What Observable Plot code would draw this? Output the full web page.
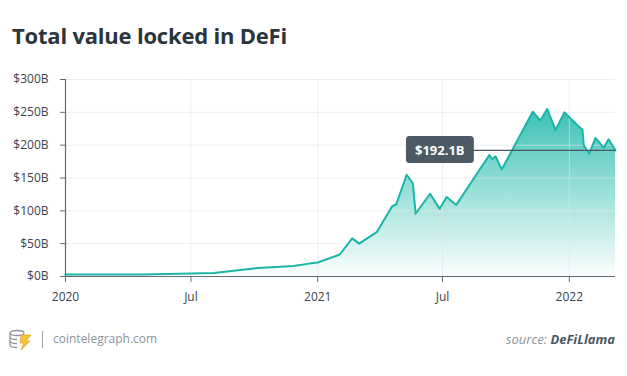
<!DOCTYPE html>
<html><head><meta charset="utf-8">
<script src="https://cdn.jsdelivr.net/npm/d3@7"></script>
<script src="https://cdn.jsdelivr.net/npm/@observablehq/plot@0.6"></script>
<style>
body{margin:0;background:#fff;font-family:"Open Sans",sans-serif;width:627px;height:376px;position:relative;overflow:hidden}
#title{position:absolute;left:12px;top:20px;font-size:22px;font-weight:700;color:#2b353d;white-space:nowrap;letter-spacing:-0.2px}
#chart{position:absolute;left:0;top:60px}
#logo{position:absolute;left:9px;top:329px}
#sep{position:absolute;left:42px;top:331px;width:1px;height:17px;background:#9aa3a9}
#site{position:absolute;left:53px;top:330px;font-size:12px;color:#8b949a;line-height:18px}
#source{position:absolute;right:12px;top:330px;font-size:13px;font-style:italic;color:#8b949a;line-height:18px}
#source b{color:#4b5963;font-weight:700}
</style></head><body>
<div id="title">Total value locked in DeFi</div>
<div id="chart"></div>
<svg id="logo" width="24" height="22" viewBox="0 0 24 22">
  <ellipse cx="8" cy="4" rx="7" ry="2.5" fill="none" stroke="#8d969c" stroke-width="1.3"/>
  <path d="M1 4v12c0 1.4 3.1 2.5 7 2.5M1 8c0 1.4 3.1 2.5 7 2.5M1 12c0 1.4 3.1 2.5 7 2.5" fill="none" stroke="#8d969c" stroke-width="1.3"/>
  <path d="M12 6h10l-5 6h4l-9 9 3-7h-4z" fill="#f5c242" stroke="#e3a923" stroke-width="0.8"/>
</svg>
<div id="sep"></div>
<div id="site">cointelegraph.com</div>
<div id="source">source: <b>DeFiLlama</b></div>
<script>
const dates = ["2020-01-01","2020-04-20","2020-07-01","2020-08-03","2020-10-06","2020-11-27","2020-12-22","2021-01-01",
  "2021-02-02","2021-02-20","2021-03-02","2021-03-28","2021-04-19","2021-04-25","2021-05-10","2021-05-19","2021-05-23",
  "2021-06-13","2021-06-27","2021-07-07","2021-07-21","2021-09-07","2021-09-11","2021-09-16","2021-09-25",
  "2021-11-09","2021-11-20","2021-11-30","2021-12-12","2021-12-25","2022-01-13","2022-01-20","2022-01-22",
  "2022-01-30","2022-02-08","2022-02-20","2022-02-27","2022-03-09"];
const tvlBillions = [3,3,4.5,5.5,13,16,20,21.3,
  33.5,58,50,68,107,110,155,142,95.5,
  126,103,121,109,185,178.6,183,163,
  251,237.5,255,223,250,230,224,199.5,
  187,211,196,209,192.1];
const yTicks = [0,50,100,150,200,250,300];
const xTickDates = ["2020-01-01","2020-07-01","2021-01-01","2021-07-01","2022-01-01"];
const xTickLabels = ["2020","Jul","2021","Jul","2022"];
const annotationValue = 192.1;
const annotationLabel = "$192.1B";
const annotationDate = "2021-06-27";

const parse = d3.utcParse("%Y-%m-%d");
const data = dates.map((d,i)=>({date: parse(d), value: tvlBillions[i]}));
const xTicks = xTickDates.map(parse);
const labelMap = new Map(xTicks.map((d,i)=>[+d, xTickLabels[i]]));
const last = data[data.length-1];
const ann = [{date: parse(annotationDate), end: last.date, value: annotationValue, label: annotationLabel}];

const axisColor = "#5f6c75";
const gridColor = "#dfe4e7";
const textColor = "#3a444b";

const chart = Plot.plot({
  width: 627,
  height: 245,
  marginLeft: 65,
  marginRight: 12,
  marginTop: 19,
  marginBottom: 29,
  style: {fontFamily: "'Open Sans', sans-serif", fontSize: "12px", color: textColor, background: "transparent"},
  x: {type: "utc", domain: [data[0].date, last.date]},
  y: {domain: [0, 300]},
  marks: [
    Plot.areaY(data, {x: "date", y: "value", fill: "url(#tvlGrad)"}),
    Plot.gridY(yTicks, {stroke: gridColor, strokeOpacity: 0.6}),
    Plot.gridX(xTicks, {stroke: gridColor, strokeOpacity: 0.6}),
    Plot.lineY(data, {x: "date", y: "value", stroke: "#1bb5a7", strokeWidth: 2}),
    Plot.ruleY([0], {stroke: axisColor, strokeWidth: 1.2}),
    Plot.frame({anchor: "left", stroke: axisColor, strokeWidth: 1.2}),
    Plot.axisY(yTicks, {tickSize: 5, tickPadding: 12, tickFormat: d => `$${d}B`, stroke: axisColor, fill: textColor, label: null, fontSize: 12}),
    Plot.axisX(xTicks, {tickSize: 6, tickPadding: 10, tickFormat: d => labelMap.get(+d), stroke: axisColor, fill: textColor, label: null, fontSize: 12}),
    Plot.ruleY(ann, {x1: "date", x2: "end", y: "value", stroke: "#4b5963", strokeWidth: 1.2}),
    Plot.text(ann, {x: "date", y: "value", text: "label", fill: "white", fontWeight: 700, fontSize: 13, className: "annlabel"})
  ]
});
document.getElementById("chart").appendChild(chart);

const svg = d3.select(chart);
const defs = svg.insert("defs", ":first-child");
const g = defs.append("linearGradient").attr("id","tvlGrad").attr("x1",0).attr("y1",0).attr("x2",0).attr("y2",1);
g.append("stop").attr("offset","0%").attr("stop-color","#3cc2b5").attr("stop-opacity",1);
g.append("stop").attr("offset","100%").attr("stop-color","#3cc2b5").attr("stop-opacity",0.02);

svg.selectAll(".annlabel text").each(function(){
  const b = this.getBBox();
  const w = b.width + 18, h = 27;
  const r = d3.select(this.parentNode).insert("rect", "text")
    .attr("x", b.x + b.width/2 - w/2).attr("y", b.y + b.height/2 - h/2)
    .attr("width", w).attr("height", h).attr("rx", 3.5).attr("fill", "#4b5a64");
  const t = this.getAttribute("transform");
  if (t) r.attr("transform", t);
});
</script>
</body></html>
